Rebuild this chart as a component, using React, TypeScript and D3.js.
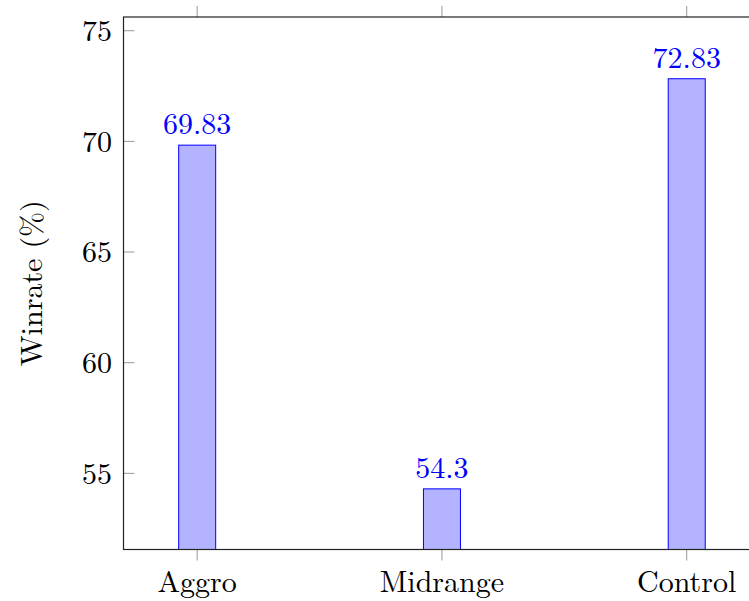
import React from "react";
import * as d3 from "d3";

const categories = ["Aggro", "Midrange", "Control"];
const winrates = [69.83, 54.3, 72.83];
const valueLabels = ["69.83", "54.3", "72.83"];
const yTicks = [55, 60, 65, 70, 75];

const W = 749;
const H = 601;
const left = 123.5;
const right = 760.4;
const top = 17;
const bottom = 549.5;
const font = "Latin Modern Roman, serif";
const fs = 30;

export default function App() {
  const x = d3.scaleLinear().domain([-0.301, 2.301]).range([left, right]);
  const y = d3.scaleLinear().domain([51.56, 75.62]).range([bottom, top]);
  const barW = 37;
  return (
    <svg width={W} height={H} style={{ position: "absolute", left: 0, top: 0, background: "#fff" }}>
      {winrates.map((v, i) => (
        <g key={categories[i]}>
          <rect
            x={x(i) - barW / 2}
            y={y(v)}
            width={barW}
            height={bottom - y(v)}
            fill="#b3b3ff"
            stroke="#0000ff"
            strokeWidth={1}
          />
          <text
            x={x(i)}
            y={y(v) - 11}
            textAnchor="middle"
            fontFamily={font}
            fontSize={fs}
            fill="#0000ff"
          >
            {valueLabels[i]}
          </text>
        </g>
      ))}
      {yTicks.map((t) => (
        <g key={t}>
          <line x1={left} x2={left + 11} y1={y(t)} y2={y(t)} stroke="#999" strokeWidth={1} />
          <text
            x={112}
            y={y(t)}
            dy="0.34em"
            textAnchor="end"
            fontFamily={font}
            fontSize={fs}
            fill="#000"
          >
            {t}
          </text>
        </g>
      ))}
      {categories.map((c, i) => (
        <g key={c}>
          <line x1={x(i)} x2={x(i)} y1={top} y2={top - 11} stroke="#999" strokeWidth={1} />
          <line x1={x(i)} x2={x(i)} y1={bottom} y2={bottom + 11} stroke="#999" strokeWidth={1} />
          <text x={x(i)} y={592} textAnchor="middle" fontFamily={font} fontSize={fs} fill="#000">
            {c}
          </text>
        </g>
      ))}
      <rect x={left} y={top} width={right - left} height={bottom - top} fill="none" stroke="#222" strokeWidth={1.2} />
      <text
        transform={`translate(42, ${(top + bottom) / 2}) rotate(-90)`}
        textAnchor="middle"
        fontFamily={font}
        fontSize={fs}
        fill="#000"
      >
        Winrate (%)
      </text>
    </svg>
  );
}
